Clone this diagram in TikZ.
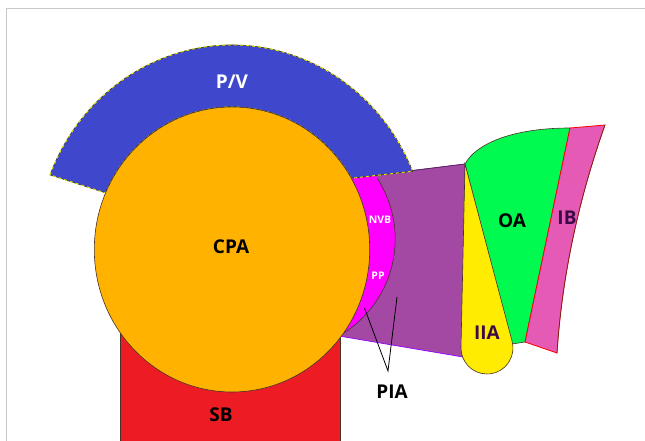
\documentclass[tikz,border=0pt]{standalone}
\usepackage{fontspec}
\setmainfont{Open Sans}
\usepackage{tikz}
\usetikzlibrary{positioning, shapes.geometric}
\definecolor{pvblue}{RGB}{63,72,204}
\definecolor{cpaorange}{RGB}{255,178,0}
\definecolor{sbred}{RGB}{237,28,36}
\definecolor{ppmagenta}{RGB}{255,0,255}
\definecolor{piapurple}{RGB}{163,73,164}
\definecolor{piaedge}{RGB}{150,0,255}
\definecolor{oagreen}{RGB}{0,250,80}
\definecolor{iiayellow}{RGB}{255,236,0}
\definecolor{ibpink}{RGB}{228,90,180}
\definecolor{darkedge}{RGB}{70,50,40}
\definecolor{dashyellow}{RGB}{220,240,0}
\definecolor{framegray}{RGB}{200,200,200}
\definecolor{darklabel}{RGB}{60,10,70}
\tikzset{
  region/.style={draw=darkedge, line width=0.6pt},
  bigtext/.style={font=\fontsize{19}{21}\selectfont\bfseries, inner sep=0pt},
  smalltext/.style={font=\fontsize{10.5}{12}\selectfont\bfseries, text=white, inner sep=0pt},
  pointer/.style={draw=black, line width=0.8pt},
}

\begin{document}
\begin{tikzpicture}[x=1pt, y=1pt]
  \useasboundingbox (0,0) rectangle (645,-441);

  % frame
  \draw[framegray, line width=1pt] (6,-441) -- (6,-9) -- (645,-9);

  % SB
  \draw[region, fill=sbred] (120,-300) rectangle (340,-445);

  % PIA trapezoid
  \draw[fill=piapurple, draw=piaedge, line width=0.7pt]
    (150,-203) -- (465,-164) -- (463,-357) -- (150,-304) -- cycle;
  \draw[darkedge, line width=0.6pt] (352,-178) -- (465,-164) -- (463,-357);

  % NVB / PP crescent
  \coordinate (ppc) at (283.6,-239);
  \begin{scope}
    \clip (150,-203) -- (465,-164) -- (463,-357) -- (150,-304) -- cycle;
    \fill[ppmagenta] (ppc) circle (111.6);
  \end{scope}
  \draw[darkedge, line width=0.6pt] ([shift={(33.1:111.6)}]ppc)
    arc[start angle=33.1, end angle=-58.4, radius=111.6];

  % P/V band
  \coordinate (cpac) at (232,-249.5);
  \draw[region, fill=pvblue,
        postaction={draw=dashyellow, line width=0.9pt, dash pattern=on 3pt off 3pt}]
    ([shift={(158.6:195.5 and 204.5)}]cpac)
    arc[start angle=158.6, end angle=22.5, x radius=195.5, y radius=204.5]
    -- ([shift={(30:137.7 and 142.5)}]cpac)
    arc[start angle=30, end angle=156.6, x radius=137.7, y radius=142.5]
    -- cycle;

  % CPA
  \node[region, fill=cpaorange, ellipse, minimum width=275.4pt, minimum height=285pt,
        inner sep=0pt] (cpa) at (cpac) {};

  % OA
  \draw[region, fill=oagreen]
    (465,-164) .. controls (475,-145) and (510,-128) .. (570,-128)
    -- (525,-342) -- (512,-344) -- cycle;

  % IB
  \draw[draw=red, line width=0.8pt, fill=ibpink]
    (570,-128) -- (605,-125) .. controls (578,-201) and (562,-277) .. (557,-353)
    -- (525,-342) -- cycle;
  \draw[darkedge, line width=0.5pt]
    (605,-125) .. controls (578,-201) and (562,-277) .. (557,-353);

  % IIA
  \draw[region, fill=iiayellow]
    (465,-164) -- (461,-347.4)
    arc[start angle=178.7, end angle=374.9, radius=26] -- cycle;

  % labels
  \node[bigtext, text=white] (pvlabel) at (232,-82) {P/V};
  \node[bigtext] (cpalabel) at (231,-247) {CPA};
  \node[bigtext] (sblabel) at (221,-415) {SB};
  \node[bigtext] (oalabel) at (512,-221) {OA};
  \node[bigtext, text=darklabel] (iblabel) at (567,-218) {IB};
  \node[bigtext, text=darklabel] (iialabel) at (487,-333) {IIA};
  \node[bigtext] (pialabel) at (392,-392) {PIA};
  \node[smalltext] (nvblabel) at (380,-220) {NVB};
  \node[smalltext] (pplabel) at (378,-276) {PP};

  % PIA pointers
  \coordinate (piajoin) at (388,-371);
  \coordinate (ppend) at (364.5,-308);
  \coordinate (trapend) at (397,-297);
  \draw[pointer] (ppend) -- (piajoin) -- (trapend);

\end{tikzpicture}
\end{document}
